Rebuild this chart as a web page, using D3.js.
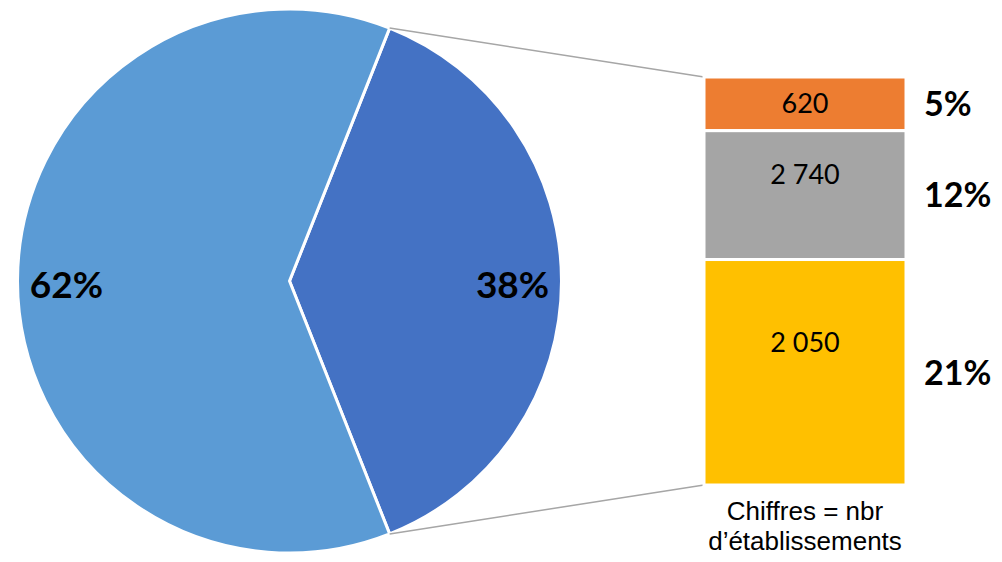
<!DOCTYPE html>
<html>
<head>
<meta charset="utf-8">
<script src="https://cdn.jsdelivr.net/npm/d3@7"></script>
<style>
  html, body { margin: 0; padding: 0; background: #fff; }
  svg { display: block; }
</style>
</head>
<body>
<svg id="chart" width="1002" height="562"></svg>
<script>
// Main pie: share of the two groups (percent)
const pieCategories = ["Autres", "Détail"];
const pieValues = [62, 38];
const pieColors = ["#5B9BD5", "#4472C4"];

// Breakdown of the 38% slice, stacked from top to bottom
const barCategories = ["A", "B", "C"];
const barPercents = [5, 12, 21];
const barCounts = ["620", "2 740", "2 050"];
const barColors = ["#ED7D31", "#A5A5A5", "#FFC000"];

const noteLines = ["Chiffres = nbr", "d\u2019établissements"];

const svg = d3.select("#chart");

// ---- pie ----
const cx = 289.5, cy = 281, r = 272;
const detailShare = pieValues[1] / d3.sum(pieValues);
// centre the detailed slice on 3 o'clock
const start = Math.PI / 2 - detailShare * Math.PI;

const pie = d3.pie().sort(null).value(d => d.v)
  .startAngle(start).endAngle(start + 2 * Math.PI);
const arcs = pie([{ k: pieCategories[1], v: pieValues[1], c: pieColors[1] },
                  { k: pieCategories[0], v: pieValues[0], c: pieColors[0] }]);

const arc = d3.arc().innerRadius(0).outerRadius(r);
const labelArc = d3.arc().innerRadius(r * 0.82).outerRadius(r * 0.82);

const gPie = svg.append("g").attr("transform", `translate(${cx},${cy})`);
gPie.selectAll("path").data(arcs).join("path")
  .attr("d", arc)
  .attr("fill", d => d.data.c)
  .attr("stroke", "#fff")
  .attr("stroke-width", 3)
  .attr("stroke-linejoin", "round");

gPie.selectAll("text").data(arcs).join("text")
  .attr("x", d => labelArc.centroid(d)[0])
  .attr("y", d => labelArc.centroid(d)[1])
  .attr("text-anchor", "middle")
  .attr("dy", "0.47em")
  .attr("font-family", "Lato, 'Open Sans', sans-serif")
  .attr("font-weight", "bold")
  .attr("font-size", 37)
  .attr("fill", "#000")
  .text(d => d.data.v + "%");

// ---- stacked bar ----
const barX0 = 704, barX1 = 906;
const y = d3.scaleLinear().domain([0, d3.sum(barPercents)]).range([77, 485]);
const cum = d3.cumsum(barPercents);
const segs = barPercents.map((p, i) => ({
  p, count: barCounts[i], c: barColors[i],
  y0: y(cum[i] - p), y1: y(cum[i])
}));

// connector lines from the slice edges to the bar corners
const detailArc = arcs[0];
const edge = a => [cx + r * Math.sin(a), cy - r * Math.cos(a)];
const pTop = edge(detailArc.startAngle);
const pBot = edge(detailArc.endAngle);
svg.append("line")
  .attr("x1", pTop[0]).attr("y1", pTop[1])
  .attr("x2", barX0).attr("y2", y(0))
  .attr("stroke", "#A6A6A6").attr("stroke-width", 1.5);
svg.append("line")
  .attr("x1", pBot[0]).attr("y1", pBot[1])
  .attr("x2", barX0).attr("y2", y(d3.sum(barPercents)))
  .attr("stroke", "#A6A6A6").attr("stroke-width", 1.5);

const gBar = svg.append("g");
gBar.selectAll("rect").data(segs).join("rect")
  .attr("x", barX0)
  .attr("width", barX1 - barX0)
  .attr("y", d => d.y0)
  .attr("height", d => d.y1 - d.y0)
  .attr("fill", d => d.c)
  .attr("stroke", "#fff")
  .attr("stroke-width", 3);

// counts inside each segment
gBar.selectAll("text.count").data(segs).join("text")
  .attr("class", "count")
  .attr("x", (barX0 + barX1) / 2)
  .attr("y", d => d.y0 + Math.max((d.y1 - d.y0) * 0.41, 36))
  .attr("text-anchor", "middle")
  .attr("font-family", "Lato, 'Open Sans', sans-serif")
  .attr("font-size", 27)
  .attr("fill", "#000")
  .text(d => d.count);

// percentages to the right of the bar
gBar.selectAll("text.pct").data(segs).join("text")
  .attr("class", "pct")
  .attr("x", 924)
  .attr("y", d => (d.y0 + d.y1) / 2)
  .attr("dy", "0.36em")
  .attr("font-family", "Lato, 'Open Sans', sans-serif")
  .attr("font-weight", "bold")
  .attr("font-size", 34)
  .attr("fill", "#000")
  .text(d => d.p + "%");

// note below the bar
svg.append("g").selectAll("text").data(noteLines).join("text")
  .attr("x", (barX0 + barX1) / 2)
  .attr("y", (d, i) => 520 + i * 29.5)
  .attr("text-anchor", "middle")
  .attr("font-family", "'Liberation Sans', Arial, sans-serif")
  .attr("font-size", 26)
  .attr("fill", "#000")
  .text(d => d);
</script>
</body>
</html>
